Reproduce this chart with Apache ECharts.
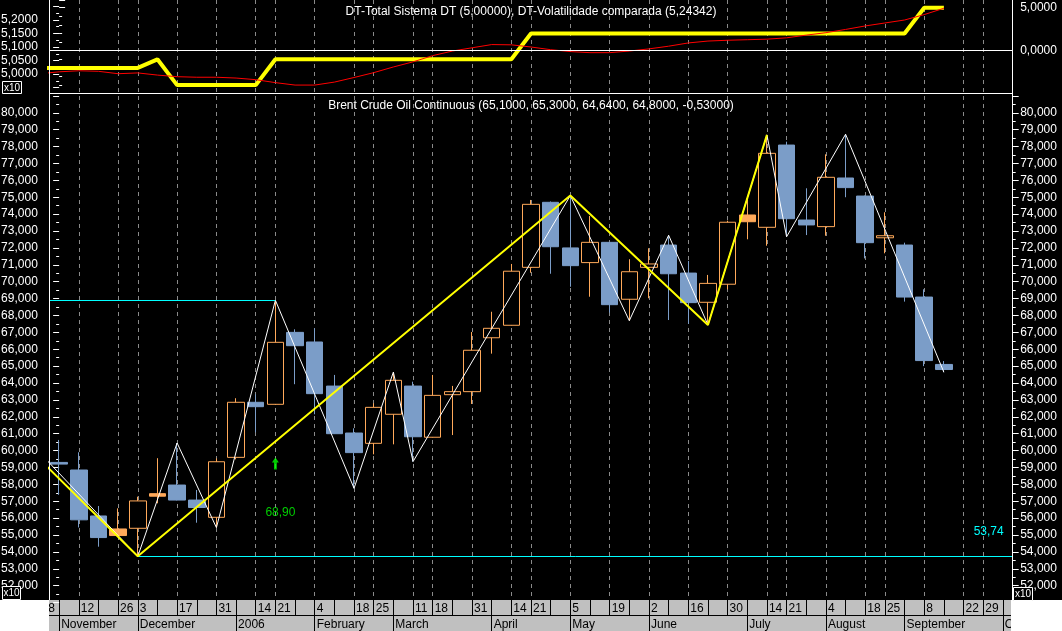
<!DOCTYPE html>
<html>
<head>
<meta charset="utf-8">
<title>Brent Crude Oil Continuous</title>
<script src="https://cdn.jsdelivr.net/npm/echarts@6.0.0/dist/echarts.min.js"></script>
<style>
html,body{margin:0;padding:0;background:#000;overflow:hidden;}
#chart{width:1062px;height:631px;}
</style>
</head>
<body>
<div id="chart"></div>
<script>
// ---------------- data ----------------
// weekly bars, week 0 = first visible week (Nov 2005)
const dayLabels = ['', '12', '', '26', '3', '', '17', '', '31', '', '14', '21', '', '4', '', '18', '25', '', '11', '18', '', '31', '', '14', '21', '', '5', '', '19', '', '2', '', '16', '', '30', '', '14', '21', '', '4', '', '18', '25', '', '8', '', '22', '29', ''];
const leadDayLabel = '28';   // week before the first visible one (only partly visible)
const monthLabels = ['November', '', '', '', 'December', '', '', '', '', '2006', '', '', '', 'February', '', '', '', 'March', '', '', '', '', 'April', '', '', '', 'May', '', '', '', 'June', '', '', '', '', 'July', '', '', '', 'August', '', '', '', 'September', '', '', '', '', 'October'];

const open  = [59.30, 58.85, 56.13, 55.36, 55.40, 57.45, 57.96, 57.07, 56.05, 59.60, 62.86, 62.74, 67.00, 66.43, 63.82, 61.04, 60.43, 62.15, 63.82, 60.79, 63.31, 63.49, 66.68, 67.42, 70.85, 74.70, 72.00, 71.13, 72.33, 68.96, 70.85, 72.17, 70.51, 68.78, 69.85, 73.95, 73.22, 78.09, 73.65, 73.26, 76.14, 75.07, 72.60, 72.17, 69.09, 65.10];
const high  = [60.63, 59.90, 56.72, 56.58, 57.27, 59.55, 60.45, 57.67, 59.54, 63.10, 63.33, 68.90, 67.18, 67.24, 64.48, 61.32, 62.80, 64.65, 64.08, 64.48, 63.83, 67.02, 68.22, 71.05, 74.84, 74.75, 75.10, 73.89, 72.35, 71.33, 71.98, 72.75, 71.23, 70.40, 73.61, 74.84, 78.69, 78.29, 75.53, 77.54, 78.73, 75.10, 74.11, 72.31, 69.55, 65.30];
const low   = [57.38, 55.45, 54.31, 54.95, 53.74, 56.88, 57.05, 55.73, 55.44, 59.48, 61.08, 62.70, 63.93, 62.15, 60.98, 57.77, 59.78, 60.37, 59.35, 60.77, 60.92, 62.76, 65.74, 67.40, 70.53, 70.47, 69.70, 69.11, 68.17, 67.69, 69.02, 67.73, 67.50, 67.44, 69.55, 72.51, 72.13, 72.66, 72.76, 72.72, 75.00, 71.38, 71.68, 68.82, 65.00, 64.64];
const close = [59.20, 55.90, 54.85, 54.97, 57.02, 57.30, 57.07, 56.63, 59.34, 62.86, 62.60, 66.41, 66.21, 63.37, 61.00, 59.88, 62.56, 64.16, 60.82, 63.27, 63.49, 65.94, 67.24, 70.62, 74.58, 72.07, 70.95, 72.33, 68.64, 70.59, 71.05, 70.47, 68.76, 69.90, 73.52, 73.55, 77.60, 73.73, 73.36, 76.18, 75.57, 72.31, 72.72, 69.09, 65.33, 64.80];

// indicator panel, values from week -1 (lead-in week) to week 45
const indicatorStartWeek = -1;
const dtTotal = [-2, -2, -2, -2, -2, -2, -1, -4, -4, -4, -4, -4, -1, -1, -1, -1, -1, -1, -1, -1, -1, -1, -1, -1, -1, 2, 2, 2, 2, 2, 2, 2, 2, 2, 2, 2, 2, 2, 2, 2, 2, 2, 2, 2, 2, 5, 5];
const dtVol = [5.001, 5.008, 5.012, 5.010, 5.001, 5.004, 4.996, 4.990, 4.988, 4.988, 4.985, 4.979, 4.968, 4.959, 4.959, 4.970, 4.987, 5.005, 5.026, 5.045, 5.068, 5.085, 5.097, 5.109, 5.108, 5.100, 5.090, 5.083, 5.079, 5.079, 5.085, 5.093, 5.103, 5.115, 5.122, 5.125, 5.127, 5.129, 5.134, 5.144, 5.153, 5.165, 5.178, 5.189, 5.200, 5.220, 5.24342];

// zigzag pivots (week index, price)
const whitePivotWeeks  = [-1, 4, 6, 8, 11, 15, 17, 18, 26, 29, 31, 33, 36, 37, 40, 45];
const whitePivotValues = [59.89, 53.74, 60.45, 55.44, 68.90, 57.77, 64.65, 59.35, 75.10, 67.69, 72.75, 67.44, 78.69, 72.66, 78.73, 64.64];
const yellowPivotWeeks  = [-1, 4, 26, 33, 36];
const yellowPivotValues = [59.49, 53.74, 75.10, 67.44, 78.69];

// horizontal levels
const resistanceLevel = 68.90, resistanceFromWeek = -1, resistanceToWeek = 11;
const supportLevel = 53.74, supportFromWeek = 4;
// buy signal
const signalWeek = 11, signalValue = 59.24;

// ---------------- layout / style ----------------
const FONT = "'Liberation Sans', Arial, sans-serif";
const BLUE = '#7B9DC8', ORANGE = '#FFA95A';
const W = 1062;
const plotLeft = 49.3, plotWidth = 963.4;
const nWeeks = dayLabels.length;
const step = plotWidth / nWeeks;
const xMin = -0.5, xMax = nWeeks - 0.5;
const fmt = (v, d) => v.toFixed(d).replace('.', ',');
const n = close.length;

const candleData = open.map((o, i) => {
  const c = close[i];
  const prev = i > 0 ? close[i - 1] : o;
  const stroke = c >= prev ? ORANGE : BLUE;
  const fill = c > o ? '#000' : stroke;
  return { value: [o, c, low[i], high[i]],
    itemStyle: { color: fill, color0: fill, borderColor: stroke, borderColor0: stroke } };
});
const pairs = (weeks, vals) => weeks.map((w, i) => [w, vals[i]]);
const indicatorPairs = (vals) => vals.map((v, k) => [k + indicatorStartWeek, v]);

const mainTitle = 'Brent Crude Oil Continuous (' + [open[n-1], high[n-1], low[n-1], close[n-1]].map(v => fmt(v, 4)).join(', ') +
  ', ' + fmt(close[n-1] - close[n-2], 5) + ')';
const topTitle = 'DT-Total Sistema DT (' + fmt(dtTotal[dtTotal.length-1], 5) + '), DT-Volatilidade comparada (' + fmt(dtVol[dtVol.length-1], 5) + ')';

const hiddenX = (gi) => ({ type: 'value', gridIndex: gi, min: xMin, max: xMax, show: false });
const hiddenY = (gi) => ({ type: 'value', gridIndex: gi, show: false });
const whiteText = { color: '#fff', fontSize: 12, fontFamily: FONT, padding: [4, 0, 0, 0] };

function x10Box(x, y, w, h) {
  return { type: 'group', z: 100, children: [
    { type: 'rect', shape: { x: x + 0.5, y: y + 0.5, width: w, height: h }, style: { fill: '#000', stroke: '#fff', lineWidth: 1 }, z: 100 },
    { type: 'text', x: x + w / 2 + 0.5, y: y + h / 2 + 1, style: { text: 'x10', fill: '#fff', font: '10px ' + FONT, align: 'center', verticalAlign: 'middle' }, z: 101 }
  ]};
}

const bandLabel = { show: true, inside: true, interval: 0, margin: 3, align: 'left', verticalAlign: 'top', padding: [0, 0, 0, 2],
  color: '#000', fontSize: 12, fontFamily: FONT };

const option = {
  backgroundColor: '#000',
  animation: false,
  title: [
    { text: topTitle, left: 'center', top: 6, padding: 0, textStyle: { color: '#fff', fontSize: 12, fontWeight: 'normal', fontFamily: FONT } },
    { text: mainTitle, left: 'center', top: 100, padding: 0, textStyle: { color: '#fff', fontSize: 12, fontWeight: 'normal', fontFamily: FONT } }
  ],
  grid: [
    { left: plotLeft, width: plotWidth, top: 0, height: 93.7, outerBoundsMode: 'none', containLabel: false },      // 0 DT-Total
    { left: plotLeft, width: plotWidth, top: 6.5, height: 81, outerBoundsMode: 'none', containLabel: false },      // 1 volatility
    { left: plotLeft, width: plotWidth, top: 95.9, height: 506.7, outerBoundsMode: 'none', containLabel: false },  // 2 price
    { left: plotLeft + step / 2, width: step * (nWeeks - 1), top: 0, height: 600, outerBoundsMode: 'none', containLabel: false }, // 3 date gridlines
    { left: plotLeft - step / 2, width: step * nWeeks, top: 600, height: 15, outerBoundsMode: 'none', containLabel: false },      // 4 day row
    { left: plotLeft + step / 2, width: step * (nWeeks - 1), top: 616, height: 15, outerBoundsMode: 'none', containLabel: false } // 5 month row
  ],
  xAxis: [
    hiddenX(0),
    hiddenX(1),
    { type: 'category', gridIndex: 2, data: dayLabels.map((_, i) => 'w' + i), boundaryGap: true, show: false },
    hiddenX(2),
    { type: 'category', gridIndex: 3, data: dayLabels.map((_, i) => 'g' + i), boundaryGap: false,
      axisLine: { show: false }, axisTick: { show: false }, axisLabel: { show: false },
      splitLine: { show: true, interval: (i) => dayLabels[i] !== '', lineStyle: { color: '#8a8a8a', type: [4, 4], width: 1 } } },
    { type: 'category', gridIndex: 4, position: 'top', boundaryGap: false,
      data: [leadDayLabel].concat(dayLabels).map((_, i) => 'd' + i),
      axisLine: { show: false }, axisTick: { show: false },
      axisLabel: Object.assign({ formatter: (v, i) => (i === 0 ? leadDayLabel : dayLabels[i - 1]) }, bandLabel),
      splitLine: { show: true, interval: 0, lineStyle: { color: '#000', width: 1, type: 'solid' } } },
    { type: 'category', gridIndex: 5, position: 'top', boundaryGap: false,
      data: monthLabels.map((_, i) => 'm' + i),
      axisLine: { show: false }, axisTick: { show: false },
      axisLabel: Object.assign({ formatter: (v, i) => monthLabels[i] }, bandLabel),
      splitLine: { show: true, interval: (i) => monthLabels[i] !== '', lineStyle: { color: '#000', width: 1, type: 'solid' } } }
  ],
  yAxis: [
    { type: 'value', gridIndex: 0, position: 'right', min: -5, max: 5.895, interval: 5,
      axisLine: { show: false }, splitLine: { show: false },
      axisTick: { show: true, length: 6, lineStyle: { color: '#fff' } },
      minorTick: { show: true, splitNumber: 5, length: 3, lineStyle: { color: '#fff' } },
      axisLabel: Object.assign({ margin: 7.5, formatter: (v) => (Math.abs(v) < 1e-9 || Math.abs(v - 5) < 1e-9) ? fmt(v, 4) : '' }, whiteText) },
    { type: 'value', gridIndex: 1, position: 'left', min: 4.95, max: 5.25, interval: 0.05,
      axisLine: { show: false }, splitLine: { show: false },
      axisTick: { show: true, length: 6, lineStyle: { color: '#fff' } },
      minorTick: { show: true, splitNumber: 2, length: 3, lineStyle: { color: '#fff' } },
      axisLabel: Object.assign({ margin: 11.5, formatter: (v) => { const r = Math.round(v * 100) / 100; return (r > 4.999 && r < 5.201) ? fmt(r, 4) : ''; } }, whiteText) },
    { type: 'value', gridIndex: 2, position: 'left', min: 51, max: 81, interval: 1,
      axisLine: { show: false }, splitLine: { show: false },
      axisTick: { show: true, length: 6, lineStyle: { color: '#fff' } },
      minorTick: { show: true, splitNumber: 2, length: 3, lineStyle: { color: '#fff' } },
      axisLabel: Object.assign({ margin: 11.5, formatter: (v) => (v > 51.5 && v < 80.5) ? fmt(v, 3) : '' }, whiteText) },
    { type: 'value', gridIndex: 2, position: 'right', min: 51, max: 81, interval: 1,
      axisLine: { show: false }, splitLine: { show: false },
      axisTick: { show: true, length: 6, lineStyle: { color: '#fff' } },
      minorTick: { show: true, splitNumber: 2, length: 3, lineStyle: { color: '#fff' } },
      axisLabel: Object.assign({ margin: 7.5, formatter: (v) => (v > 51.5 && v < 80.5) ? fmt(v, 3) : '' }, whiteText) },
    hiddenY(3), hiddenY(4), hiddenY(5)
  ],
  series: [
    { name: 'DT-Total Sistema DT', type: 'line', xAxisIndex: 0, yAxisIndex: 0, z: 2,
      data: indicatorPairs(dtTotal), showSymbol: false, symbol: 'none',
      lineStyle: { color: '#ffff00', width: 4 }, clip: true,
      markLine: { silent: true, symbol: ['none', 'none'], label: { show: false },
        lineStyle: { color: '#fff', type: 'solid', width: 1 }, data: [{ yAxis: 0 }] } },
    { name: 'DT-Volatilidade comparada', type: 'line', xAxisIndex: 1, yAxisIndex: 1, z: 3,
      data: indicatorPairs(dtVol), showSymbol: false, symbol: 'none',
      lineStyle: { color: '#ff0000', width: 1 }, clip: true },
    { name: 'Brent Crude Oil Continuous', type: 'candlestick', xAxisIndex: 2, yAxisIndex: 2, z: 2,
      barWidth: 17, data: candleData, itemStyle: { borderWidth: 1 } },
    { name: 'ZigZag fine', type: 'line', xAxisIndex: 3, yAxisIndex: 2, z: 4,
      data: pairs(whitePivotWeeks, whitePivotValues), showSymbol: false, symbol: 'none',
      lineStyle: { color: '#ffffff', width: 1 }, clip: true,
      markLine: { silent: true, symbol: ['none', 'none'], label: { show: false },
        lineStyle: { color: '#00ffff', type: 'solid', width: 1 },
        data: [
          [{ coord: [Math.max(resistanceFromWeek, xMin), resistanceLevel] }, { coord: [resistanceToWeek, resistanceLevel] }],
          [{ coord: [supportFromWeek, supportLevel],
             label: { show: true, position: 'insideEndTop', distance: 0, padding: [0, 9, 19, 0], formatter: fmt(supportLevel, 2), color: '#00ffff', fontSize: 12, fontFamily: FONT } },
           { coord: [xMax, supportLevel],
             label: { show: true, position: 'insideEndTop', distance: 0, padding: [0, 9, 19, 0], formatter: fmt(supportLevel, 2), color: '#00ffff', fontSize: 12, fontFamily: FONT } }]
        ] } },
    { name: 'ZigZag coarse', type: 'line', xAxisIndex: 3, yAxisIndex: 2, z: 5,
      data: pairs(yellowPivotWeeks, yellowPivotValues), showSymbol: false, symbol: 'none',
      lineStyle: { color: '#ffff00', width: 2 }, clip: true },
    { name: 'Signal', type: 'scatter', xAxisIndex: 2, yAxisIndex: 2, z: 6,
      data: [[signalWeek, signalValue]],
      symbol: 'path://M5,0 L10,5 L7,5 L7,12 L3,12 L3,5 L0,5 Z', symbolSize: [7, 12],
      itemStyle: { color: '#00ff00' },
      label: { show: true, position: 'inside', offset: [5, 49], formatter: fmt(resistanceLevel, 2), color: '#00ff00', fontSize: 12, fontFamily: FONT } }
  ],
  graphic: [
    { type: 'rect', z: -1, shape: { x: 49, y: 600, width: 962, height: 31 }, style: { fill: '#c0c0c0' } },
    { type: 'line', z: 100, shape: { x1: 49, y1: 615.5, x2: 1011, y2: 615.5 }, style: { stroke: '#000', lineWidth: 1 } },
    { type: 'rect', z: 100, shape: { x: 0, y: 600, width: 49, height: 31 }, style: { fill: '#fff' } },
    { type: 'rect', z: 100, shape: { x: 1011, y: 600, width: W - 1011, height: 31 }, style: { fill: '#fff' } },
    { type: 'line', z: 90, shape: { x1: 49.5, y1: 0, x2: 49.5, y2: 600 }, style: { stroke: '#fff', lineWidth: 1 } },
    { type: 'line', z: 90, shape: { x1: 1012.5, y1: 0, x2: 1012.5, y2: 600 }, style: { stroke: '#fff', lineWidth: 1 } },
    { type: 'line', z: 90, shape: { x1: 49, y1: 93.5, x2: 1013, y2: 93.5 }, style: { stroke: '#fff', lineWidth: 1 } },
    x10Box(2, 81, 19, 12),
    x10Box(2, 586, 18, 13),
    x10Box(1013, 587, 19, 13)
  ]
};

const chart = echarts.init(document.getElementById('chart'), null, { renderer: 'canvas' });
chart.setOption(option);
</script>
</body>
</html>
